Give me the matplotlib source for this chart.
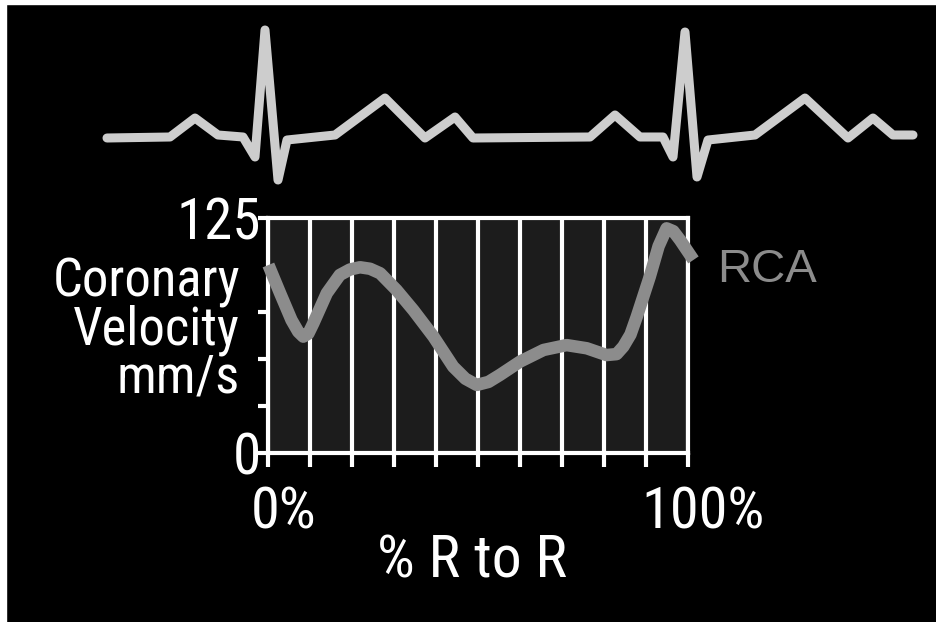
import numpy as np
import matplotlib
matplotlib.use("Agg")
import matplotlib.pyplot as plt
from matplotlib.patches import Rectangle

plt.rcParams['font.family'] = ['Roboto Condensed', 'Archivo Narrow', 'PT Sans Narrow',
                               'Liberation Sans', 'DejaVu Sans']

# ECG trace (time units, amplitude above baseline)
ecg_t = [7, 70, 95, 118, 143, 155, 165, 178, 187, 235, 285, 325, 355, 373,
         490, 515, 540, 563, 573, 585, 597, 608, 655, 705, 748, 773, 793, 813]
ecg_amp = [0, 1, 20, 3, 1, -19, 108, -42, -2, 3, 40, 0, 21, 0,
           1, 23, 1, 1, -19, 106, -39, -2, 3, 40, 0, 20, 3, 3]

# RCA coronary velocity over the R-R interval
rr_pct = [0.1, 2.9, 5.6, 7.2, 8.4, 9.6, 10.8, 14.0, 17.1, 19.5, 21.9, 24.3,
          26.7, 30.6, 34.6, 39.4, 44.1, 47.0, 49.7, 52.5, 55.2, 60.0, 65.6,
          71.1, 75.9, 80.6, 83.0, 84.6, 86.3, 87.8, 90.9, 93.0, 94.9, 96.5,
          98.1, 101.3]
rca_vel = [100, 84.9, 70.7, 64.5, 61.9, 63.5, 69, 85, 94.7, 97.6, 98.8, 98.0,
           95.6, 86.7, 76, 61.9, 45.9, 39.5, 36.2, 37.8, 41.5, 48.6, 54.8,
           57.4, 55.7, 52.1, 52.6, 56.6, 63, 72.5, 93.8, 110, 119.5, 118,
           113.3, 102.7]

y_ticks = [0, 25, 50, 75, 125]
y_labels = ['0', '', '', '', '125']
x_grid = np.arange(0, 101, 10)

W, H = 937, 622
fig = plt.figure(figsize=(W / 100, H / 100), dpi=100, facecolor='black')

# white edge strips seen on the left and top of the picture
fig.patches.append(Rectangle((0, 0), 6 / W, 1, transform=fig.transFigure,
                             color='white', zorder=0))
fig.patches.append(Rectangle((0, 1 - 4 / H), 1, 4 / H, transform=fig.transFigure,
                             color='white', zorder=0))

# ECG strip
ex = fig.add_axes([100 / W, 1 - 190 / H, 820 / W, 175 / H])
ex.set_facecolor('none')
ex.plot(ecg_t, ecg_amp, color='#cdcdcd', lw=6.5, solid_joinstyle='round',
        solid_capstyle='round')
ex.set_xlim(0, 820)
ex.set_ylim(-52, 123)
ex.axis('off')

# velocity chart
ax = fig.add_axes([268 / W, 1 - 453 / H, 420 / W, 235 / H])
ax.set_facecolor('#1c1c1c')
ax.set_xlim(0, 100)
ax.set_ylim(0, 125)
for xv in x_grid:
    ax.axvline(xv, color='white', lw=3, zorder=1)
for s in ax.spines.values():
    s.set_color('white')
    s.set_linewidth(3)
ax.set_xticks(x_grid)
ax.set_xticklabels([])
ax.set_yticks(y_ticks)
ax.set_yticklabels(y_labels)
ax.tick_params(axis='x', colors='white', length=10, width=3)
ax.tick_params(axis='y', colors='white', length=7, width=3, labelsize=41, pad=-2)
for lab in ax.get_yticklabels():
    lab.set_color('white')

ax.plot(rr_pct, rca_vel, color='#8c8c8c', lw=9, solid_capstyle='butt',
        solid_joinstyle='round', clip_on=False, zorder=3)

ax.text(1.07, 0.78, 'RCA', transform=ax.transAxes, color='#8c8c8c',
        fontsize=34, ha='left', va='center', family=['Liberation Sans', 'DejaVu Sans'])

ax.annotate('0%', xy=(0, 0), xycoords=('data', 'axes fraction'),
            xytext=(11, -43), textcoords='offset points', color='white',
            fontsize=42, ha='center', va='center')
ax.annotate('100%', xy=(100, 0), xycoords=('data', 'axes fraction'),
            xytext=(11, -43), textcoords='offset points', color='white',
            fontsize=42, ha='center', va='center')
ax.text(0.485, -0.46, '% R to R', transform=ax.transAxes, color='white',
        fontsize=43, ha='center', va='center')

for i, line in enumerate(['Coronary', 'Velocity', 'mm/s']):
    fig.text(240 / W, 1 - (296 + 48 * i) / H, line, color='white',
             fontsize=38, ha='right', va='baseline')

fig.savefig('out.png', dpi=100, facecolor='black')
